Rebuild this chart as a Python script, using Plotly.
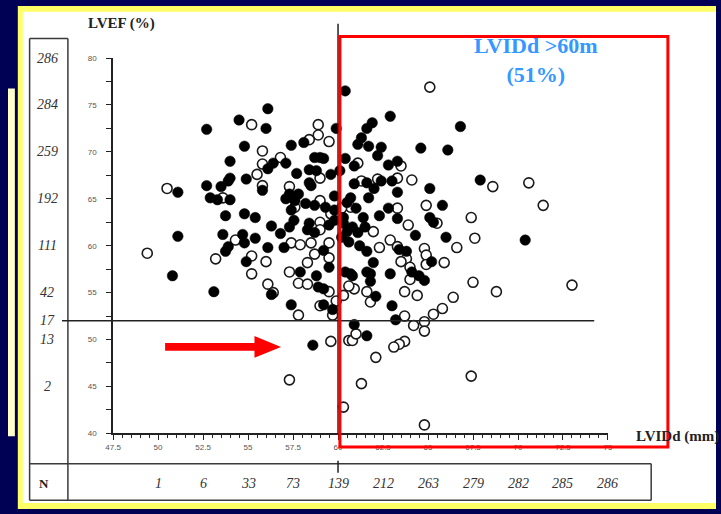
import plotly.graph_objects as go

W, H = 721, 514

# ---- data (LVIDd mm, LVEF %) ----
filled_x = [56.1, 54.5, 56.0, 52.7, 59.9, 57.4, 58.1, 54.8, 54.0, 59.0, 58.7, 56.4, 57.1, 56.1, 57.7, 58.4, 58.8, 59.6,
            54.0, 53.9, 54.9, 52.7, 53.5, 51.1, 55.8, 58.4, 58.5, 57.3, 57.8, 52.9, 53.3, 54.0, 57.1, 57.6, 58.2, 58.7,
            59.3, 59.8, 57.4, 59.8, 53.75, 54.8, 55.4, 56.3, 57.55, 57.3, 58.4, 58.3, 59.5, 59.8, 56.8, 58.7, 51.1, 53.6,
            54.7, 55.4, 54.8, 53.9, 53.75, 56.1, 57.0, 54.9, 59.5, 50.8, 57.9, 58.8, 60.4, 60.4, 60.4, 53.1, 56.3, 57.4,
            58.9, 59.2, 59.7, 58.6, 62.9, 61.9, 61.6, 66.8, 61.3, 61.1, 61.7, 62.4, 62.2, 64.6, 66.1, 60.9, 62.8, 63.3,
            59.2, 60.1, 62.4, 63.0, 60.9, 61.6, 62.0, 63.3, 65.1, 67.9, 60.7, 61.7, 65.8, 62.8, 62.3, 63.3, 65.1, 65.3,
            60.3, 60.8, 61.4, 60.5, 61.1, 61.5, 66.0, 64.3, 70.4, 61.6, 63.4, 63.8, 61.96, 65.2, 60.8, 61.8, 62.9, 64.5,
            64.8, 61.8, 61.6, 64.1, 63.0, 63.2, 60.9, 61.6, 62.1, 60.7, 59.2, 59.2, 60.5, 61.0, 60.3, 60.6, 61.2, 60.2]
filled_y = [74.6, 73.4, 72.5, 72.4, 72.5, 70.7, 71.0, 70.6, 69.0, 69.4, 69.4, 68.8, 68.8, 68.2, 67.7, 68.1, 68.0, 67.6,
            67.2, 66.9, 67.1, 66.4, 66.3, 65.7, 65.9, 66.7, 66.4, 65.5, 65.5, 65.1, 64.9, 64.9, 65.0, 64.8, 64.5, 64.3,
            64.1, 65.3, 63.8, 63.8, 63.2, 63.4, 63.0, 62.1, 62.7, 62.0, 62.4, 61.7, 62.2, 62.7, 61.3, 61.4, 61.0, 61.2,
            61.2, 60.8, 60.3, 59.9, 59.4, 59.8, 59.8, 58.3, 57.7, 56.8, 57.2, 56.8, 76.5, 69.3, 57.2, 55.1, 54.8, 53.7,
            55.6, 53.7, 53.2, 49.4, 73.8, 73.1, 72.5, 72.7, 71.5, 70.8, 70.6, 70.5, 69.6, 70.4, 70.2, 68.5, 68.6, 69.0,
            69.3, 68.0, 66.9, 66.9, 66.6, 66.7, 66.1, 65.7, 66.1, 67.0, 65.1, 65.1, 64.3, 64.0, 63.2, 62.9, 63.0, 62.5,
            63.0, 62.0, 63.0, 61.5, 61.4, 62.0, 60.9, 61.1, 60.6, 59.4, 59.6, 59.4, 58.2, 58.3, 56.8, 57.0, 57.0, 56.8,
            56.3, 56.2, 57.2, 57.2, 53.6, 52.1, 51.6, 50.4, 54.6, 57.0, 59.5, 55.4, 64.6, 64.0, 62.4, 60.4, 60.0, 60.9]

open_x = [50.5, 49.4, 55.2, 58.9, 58.9, 58.4, 59.5, 55.8, 56.8, 55.8, 55.5, 55.8, 57.3, 59.0, 53.6, 57.6, 59.0, 59.6,
          59.0, 59.0, 54.3, 57.4, 57.9, 58.5, 59.5, 53.2, 55.2, 56.0, 58.7, 58.3, 59.5, 55.2, 57.3, 56.1, 56.4, 57.8,
          57.8, 58.3, 59.5, 59.0, 59.9, 59.7, 59.6, 57.3, 60.3, 60.6, 65.1, 61.1, 63.5, 64.1, 63.3, 68.6, 70.6, 71.4,
          64.9, 63.3, 61.3, 62.2, 60.7, 67.4, 65.5, 63.9, 67.6, 66.6, 62.9, 63.3, 61.96, 64.8, 62.3, 63.8, 64.9, 65.9,
          63.5, 64.0, 64.9, 63.7, 64.4, 64.0, 61.6, 61.8, 60.9, 60.6, 60.3, 67.5, 68.8, 73.0, 66.4, 65.8, 65.3, 64.8,
          64.8, 64.2, 63.7, 63.7, 63.4, 63.1, 60.8, 61.0, 62.1, 61.3, 67.4, 64.8, 60.2]
open_y = [66.1, 59.2, 72.9, 72.9, 71.8, 71.3, 71.1, 70.1, 69.4, 68.7, 67.6, 66.4, 66.3, 67.2, 65.1, 64.1, 64.8, 63.4,
          62.5, 61.7, 60.6, 60.3, 60.1, 60.3, 60.3, 58.6, 58.9, 58.3, 59.1, 58.2, 58.7, 57.0, 57.2, 55.9, 55.0, 52.6,
          56.0, 55.9, 55.1, 53.6, 54.1, 52.6, 49.8, 45.7, 42.8, 49.9, 76.9, 68.8, 68.5, 67.0, 67.2, 66.3, 66.7, 64.3,
          64.3, 64.0, 66.9, 67.1, 64.1, 63.0, 62.4, 62.2, 60.8, 59.8, 60.6, 59.9, 61.5, 59.7, 59.8, 58.6, 59.0, 58.2,
          58.3, 57.7, 58.0, 55.1, 54.7, 56.4, 55.1, 54.0, 55.4, 55.7, 54.7, 56.1, 55.1, 55.8, 54.5, 53.3, 52.7, 51.9,
          50.9, 51.5, 52.5, 49.8, 49.5, 49.2, 49.9, 50.6, 48.1, 45.3, 46.1, 40.9, 64.0]

# N table
n_left_y = [80, 75, 70, 65, 60, 55, 52, 50, 45]
n_left_lab = ["286", "284", "259", "192", "111", "42", "17", "13", "2"]
n_bottom_x = [50, 52.5, 55, 57.5, 60, 62.5, 65, 67.5, 70, 72.5, 75]
n_bottom_lab = ["1", "6", "33", "73", "139", "212", "263", "279", "282", "285", "286"]

x_cut = 60
y_cut = 52


def px(v):
    return v / W


def py(v):
    return 1 - v / H


fig = go.Figure()
fig.add_trace(go.Scatter(x=open_x, y=open_y, mode="markers",
                         marker=dict(size=10, color="white", line=dict(color="#1a1a1a", width=1.6)),
                         showlegend=False, hoverinfo="x+y"))
fig.add_trace(go.Scatter(x=filled_x, y=filled_y, mode="markers",
                         marker=dict(size=10.5, color="black", line=dict(color="black", width=0.5)),
                         showlegend=False, hoverinfo="x+y"))

shapes = []
# frame
shapes.append(dict(type="rect", xref="paper", yref="paper", x0=px(10), x1=px(W), y0=py(H), y1=py(2),
                   fillcolor="#ffff66", line=dict(width=0), layer="below"))
shapes.append(dict(type="rect", xref="paper", yref="paper", x0=px(15), x1=px(W), y0=py(508), y1=py(8),
                   fillcolor="white", line=dict(width=0), layer="below"))
shapes.append(dict(type="rect", xref="paper", yref="paper", x0=px(0), x1=px(7), y0=py(440), y1=py(86),
                   fillcolor="#ffffc8", line=dict(width=0), layer="below"))
# table lines
tc = "#3a3a3a"
shapes.append(dict(type="line", xref="paper", yref="paper", x0=px(22), x1=px(22), y0=py(505), y1=py(35), line=dict(color=tc, width=1.5)))
shapes.append(dict(type="line", xref="paper", yref="paper", x0=px(61), x1=px(61), y0=py(505), y1=py(35), line=dict(color=tc, width=1.5)))
shapes.append(dict(type="line", xref="paper", yref="paper", x0=px(22), x1=px(61), y0=py(35), y1=py(35), line=dict(color=tc, width=1.5)))
shapes.append(dict(type="line", xref="paper", yref="paper", x0=px(22), x1=px(655), y0=py(468), y1=py(468), line=dict(color=tc, width=1.5)))
shapes.append(dict(type="line", xref="paper", yref="paper", x0=px(22), x1=px(655), y0=py(505), y1=py(505), line=dict(color=tc, width=1.5)))
shapes.append(dict(type="line", xref="paper", yref="paper", x0=px(655), x1=px(655), y0=py(505), y1=py(468), line=dict(color=tc, width=1.5)))
# cut lines
shapes.append(dict(type="line", xref="x", yref="paper", x0=x_cut, x1=x_cut, y0=py(437), y1=py(20), line=dict(color="#222", width=1.5)))
shapes.append(dict(type="line", xref="x", yref="paper", x0=x_cut, x1=x_cut, y0=py(477), y1=py(465), line=dict(color="#222", width=1.5)))
shapes.append(dict(type="line", xref="paper", yref="y", x0=px(55), x1=px(597), y0=y_cut, y1=y_cut, line=dict(color="#222", width=1.5)))
# red box
shapes.append(dict(type="rect", xref="paper", yref="paper", x0=px(338), x1=px(672), y0=py(451), y1=py(33),
                   line=dict(color="#ff0000", width=3)))
# red arrow
arrow = (f"M {px(160)} {py(345)} L {px(251)} {py(345)} L {px(251)} {py(338)} L {px(278)} {py(349)} "
         f"L {px(251)} {py(360)} L {px(251)} {py(353)} L {px(160)} {py(353)} Z")
shapes.append(dict(type="path", xref="paper", yref="paper", path=arrow, fillcolor="#ff0000", line=dict(width=0)))

ann = []
serif = "Liberation Serif"
for yv, lab in zip(n_left_y, n_left_lab):
    ann.append(dict(xref="paper", yref="y", x=px(40), y=yv, text=f"<i>{lab}</i>", showarrow=False,
                    font=dict(family=serif, size=14, color="#333"), xanchor="center", yanchor="middle"))
for xv, lab in zip(n_bottom_x, n_bottom_lab):
    ann.append(dict(xref="x", yref="paper", x=xv, y=py(488), text=f"<i>{lab}</i>", showarrow=False,
                    font=dict(family=serif, size=14, color="#333"), xanchor="center", yanchor="middle"))
ann.append(dict(xref="paper", yref="paper", x=px(37), y=py(488), text="<b>N</b>", showarrow=False,
                xanchor="center", yanchor="middle", font=dict(family=serif, size=13, color="#222")))
ann.append(dict(xref="paper", yref="paper", x=px(116), y=py(20), text="<b>LVEF (%)</b>", showarrow=False,
                xanchor="center", yanchor="middle", font=dict(family=serif, size=15, color="#222")))
ann.append(dict(xref="paper", yref="paper", x=px(638), y=py(440), text="<b>LVIDd (mm)</b>", showarrow=False,
                xanchor="left", yanchor="middle", font=dict(family=serif, size=15, color="#222")))
ann.append(dict(xref="paper", yref="paper", x=px(538), y=py(57), text="<b>LVIDd &gt;60m<br>(51%)</b>", showarrow=False,
                xanchor="center", yanchor="middle",
                font=dict(family=serif, size=22, color="#3399ff"), align="center"))

fig.update_layout(
    width=W, height=H, margin=dict(l=0, r=0, t=0, b=0),
    paper_bgcolor="#000055", plot_bgcolor="rgba(0,0,0,0)",
    shapes=shapes, annotations=ann,
    xaxis=dict(domain=[px(107), px(611)], range=[47.5, 75], tick0=47.5, dtick=2.5, showgrid=False, zeroline=False,
               showline=True, linecolor="#222", linewidth=1.5, ticks="outside", ticklen=5, tickcolor="#222",
               tickfont=dict(family="Liberation Sans", size=8, color="#555"),
               minor=dict(dtick=0.5, tick0=47.5, ticks="outside", ticklen=3, tickcolor="#222")),
    yaxis=dict(domain=[py(437), py(55)], range=[40, 80], dtick=5, showgrid=False, zeroline=False,
               showline=True, linecolor="#222", linewidth=1.5, ticks="outside", ticklen=5, tickcolor="#222",
               ticklabelstandoff=8,
               tickfont=dict(family="Liberation Sans", size=8, color="#555"),
               minor=dict(dtick=2.5, ticks="outside", ticklen=5, tickcolor="#222")),
)
fig.write_html("out.html", config={"displayModeBar": False},
               post_script="document.body.style.margin='0';document.body.style.overflow='hidden';")
